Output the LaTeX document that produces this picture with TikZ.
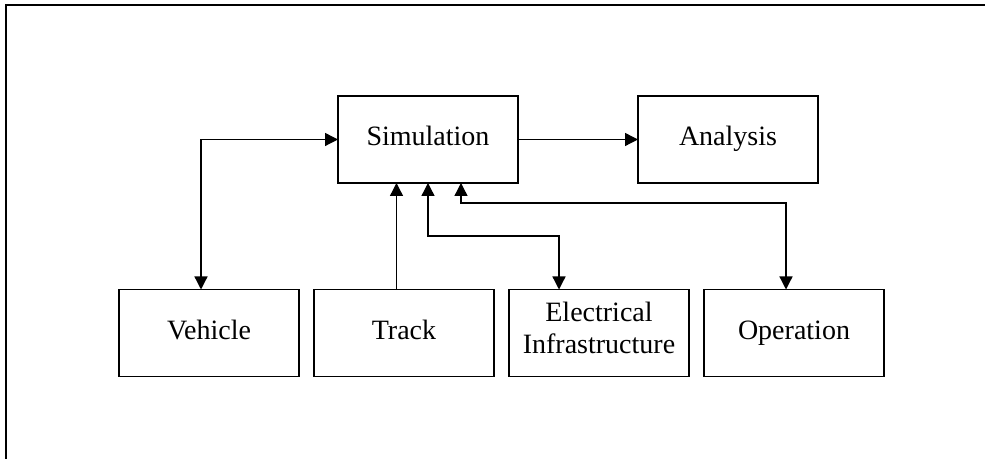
\documentclass[tikz,border=0pt]{standalone}
\usepackage{fontspec}
\setmainfont{Liberation Serif}
\usetikzlibrary{positioning, arrows.meta}

\begin{document}
\begin{tikzpicture}[>={Triangle[length=6.5pt,width=6.5pt]}, line width=0.65pt, node distance=7.5pt,
    block/.style={draw, minimum width=90pt, minimum height=43.5pt, inner sep=0pt, outer sep=0pt,
                  align=center, font=\fontsize{14}{16}\selectfont,
                  execute at begin node=\strut, execute at end node=\strut}]
    \useasboundingbox (0,0) rectangle (492.5pt,229.5pt);
    \draw[line width=1pt] (3pt,0) -- (3pt,226.75pt) -- (492.5pt,226.75pt);

    \node[block] (sim) at (214pt,159.75pt) {Simulation};
    \node[block] (ana) [right=60pt of sim] {Analysis};
    \node[block] (veh) at (104.5pt,63pt) {Vehicle};
    \node[block] (trk) [right=of veh] {Track};
    \node[block] (elec) [right=of trk] {Electrical\\Infrastructure};
    \node[block] (op) [right=of elec] {Operation};

    \draw[->] (sim) -- (ana);
    \draw[<->] (sim.west) -| ([xshift=-4pt]veh.north);
    \draw[->] ([xshift=-3.75pt]trk.north) -- ([xshift=-3.75pt]trk.north |- sim.south);
    \draw[<->] (sim.south) -- ++(0,-26.5pt) -| ([xshift=-20pt]elec.north);
    \draw[<->] ([xshift=16.5pt]sim.south) -- ++(0,-10pt) -| ([xshift=-4pt]op.north);
\end{tikzpicture}
\end{document}
